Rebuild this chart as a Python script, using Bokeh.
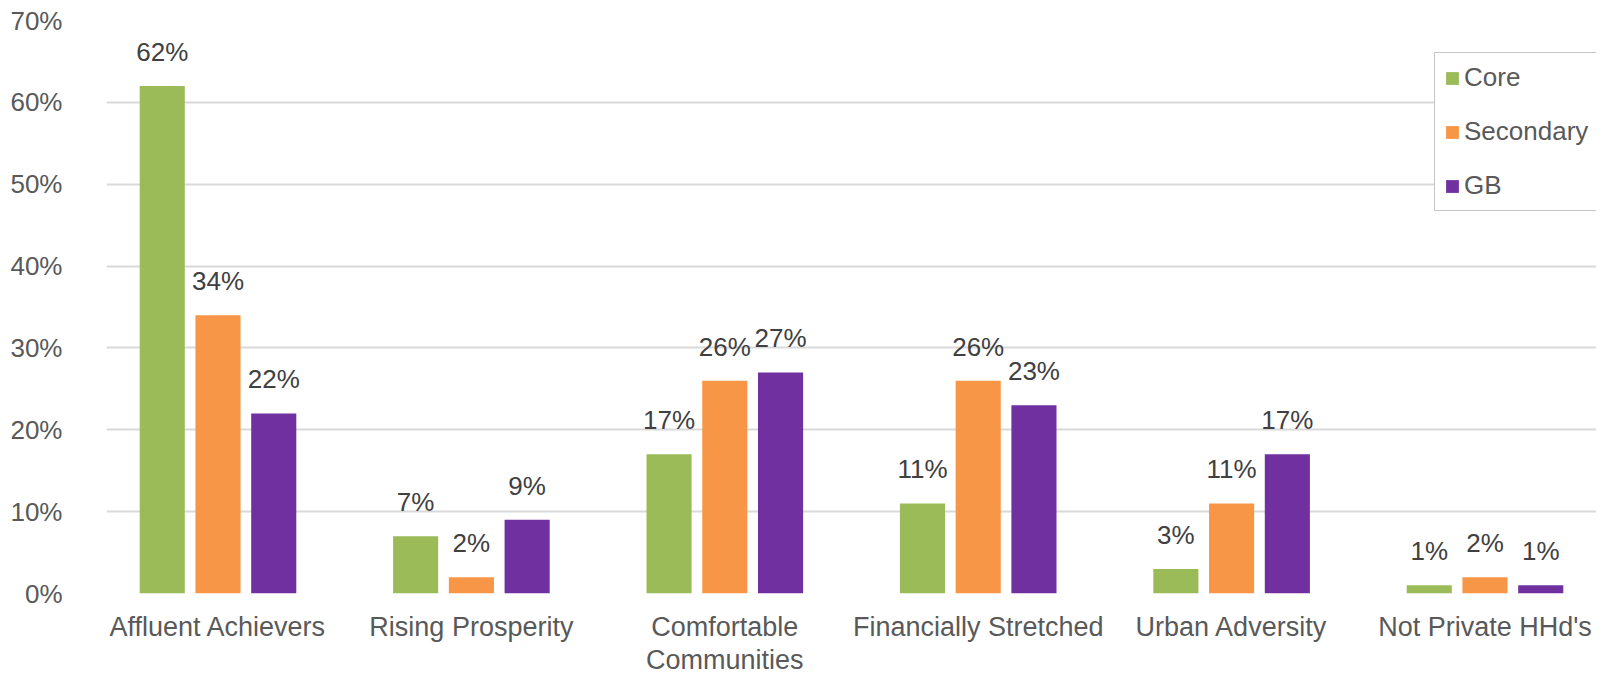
from bokeh.plotting import figure
from bokeh.models import ColumnDataSource, FactorRange, PrintfTickFormatter, Legend, LegendItem
from bokeh.transform import dodge
from bokeh.core.properties import value
from bokeh.embed import file_html
from bokeh.resources import INLINE

categories = ["Affluent Achievers", "Rising Prosperity", "Comfortable\nCommunities",
              "Financially Stretched", "Urban Adversity", "Not Private HHd's"]
core = [62, 7, 17, 11, 3, 1]
secondary = [34, 2, 26, 26, 11, 2]
gb = [22, 9, 27, 23, 17, 1]
series_names = ["Core", "Secondary", "GB"]
colors = ["#9bbb59", "#f79646", "#7030a0"]
y_ticks = [0, 10, 20, 30, 40, 50, 60, 70]

FONT = "Liberation Sans"

src = ColumnDataSource(data=dict(
    cat=categories, core=core, secondary=secondary, gb=gb,
    core_lbl=[f"{v}%" for v in core],
    secondary_lbl=[f"{v}%" for v in secondary],
    gb_lbl=[f"{v}%" for v in gb],
))

LEFT = 106
BOTTOM = 85
H = 678
p = figure(x_range=FactorRange(*categories, range_padding=-0.06, range_padding_units="absolute"),
           y_range=(0, 70),
           width=1596, height=H, output_backend="svg", toolbar_location=None,
           min_border_left=LEFT, min_border_right=0, min_border_top=20, min_border_bottom=BOTTOM)

p.outline_line_color = None
p.background_fill_color = "white"
p.border_fill_color = "white"

offsets = [-0.22, 0.0, 0.22]
fields = ["core", "secondary", "gb"]
items = []
for name, field, off, col in zip(series_names, fields, offsets, colors):
    r = p.vbar(x=dodge("cat", off, range=p.x_range), top=field, width=0.178, source=src,
               fill_color=col, line_color=None)
    items.append(LegendItem(label=name, renderers=[r]))
    p.text(x=dodge("cat", off, range=p.x_range), y=field, text=field + "_lbl", source=src,
           text_align="center", text_baseline="alphabetic", y_offset=-34,
           text_font=value(FONT), text_font_size="26px", text_color="#404040")

legend = Legend(items=items, location=(1434 - LEFT, (H - BOTTOM) - 211))
legend.label_text_font = FONT
legend.label_text_font_size = "26px"
legend.label_text_color = "#595959"
legend.glyph_width = 16
legend.glyph_height = 16
legend.label_standoff = 4
legend.spacing = 23
legend.padding = 9
legend.margin = 0
legend.border_line_color = "#8c8c8c"
legend.border_line_width = 1.5
legend.background_fill_color = "white"
legend.background_fill_alpha = 1.0
p.add_layout(legend, "center")

p.xgrid.grid_line_color = None
p.ygrid.grid_line_color = "#d9d9d9"
p.ygrid.grid_line_width = 2
p.yaxis.ticker = y_ticks
p.yaxis.formatter = PrintfTickFormatter(format="%d%%")

for ax in (p.xaxis[0], p.yaxis[0]):
    ax.axis_line_color = None
    ax.major_tick_line_color = None
    ax.minor_tick_line_color = None
    ax.major_label_text_font = FONT
    ax.major_label_text_color = "#595959"

p.yaxis.major_label_text_font_size = "26px"
p.xaxis.major_label_text_font_size = "27px"
p.xaxis.major_label_text_line_height = 1.12
p.yaxis.major_label_standoff = 38
p.xaxis.major_label_standoff = 12

open("out.html", "w").write(file_html(p, INLINE))
